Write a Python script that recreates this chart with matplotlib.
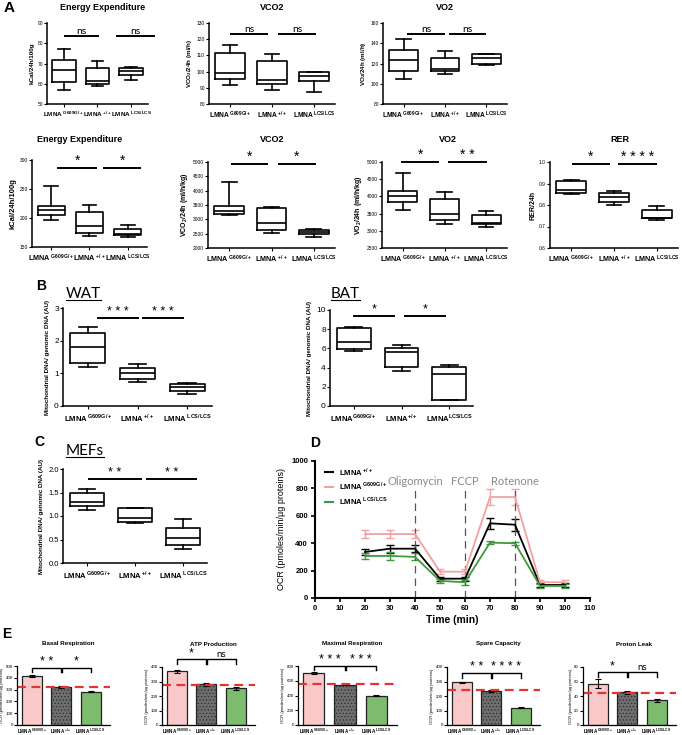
import matplotlib
matplotlib.use('Agg')
import matplotlib.pyplot as plt
from matplotlib.lines import Line2D

W, H = 682, 735
plt.rcParams['font.family'] = ['Liberation Sans', 'DejaVu Sans']
plt.rcParams['mathtext.fontset'] = 'custom'
plt.rcParams['mathtext.rm'] = 'Liberation Sans'
plt.rcParams['mathtext.bf'] = 'Liberation Sans:bold'
plt.rcParams['hatch.linewidth'] = 0.4

genotypes = ['G609G/+', '+/+', 'LCS/LCS']

# box summaries per genotype: [whisker low, q1, median, q3, whisker high]
ee_24h = [[57.0, 60.9, 66.9, 71.5, 77.3], [58.9, 59.9, 61.4, 67.7, 71.3], [61.9, 64.4, 66.4, 68.0, 68.5]]
vco2_24h = [[91.7, 95.2, 99.3, 111.6, 116.7], [88.6, 92.1, 94.7, 106.4, 110.7], [87.1, 94.3, 97.3, 99.5, 99.9]]
vo2_24h = [[104.6, 112.8, 123.3, 133.8, 144.6], [109.5, 112.5, 114.1, 125.6, 132.5], [118.4, 120.0, 125.0, 128.9, 129.8]]
ee_kg = [[196, 206, 213.5, 220.4, 255.6], [169.7, 174.2, 186.4, 210.7, 222], [167.3, 170.2, 171.9, 180.6, 187.5]]
vco2_kg = [[3158, 3193, 3274, 3482, 4293], [2520, 2636, 2868, 3378, 3424], [2382, 2486, 2544, 2614, 2672]]
vo2_kg = [[3595, 3837, 4002, 4167, 4680], [3207, 3324, 3488, 3924, 4128], [3101, 3198, 3227, 3450, 3585]]
rer = [[0.853, 0.856, 0.871, 0.910, 0.918], [0.802, 0.814, 0.837, 0.857, 0.864], [0.732, 0.740, 0.741, 0.778, 0.795]]
wat_mtdna = [[1.18, 1.33, 1.81, 2.25, 2.42], [0.74, 0.82, 1.0, 1.17, 1.30], [0.37, 0.46, 0.57, 0.66, 0.69]]
bat_mtdna = [[5.76, 5.9, 6.63, 8.16, 8.19], [3.65, 4.10, 5.59, 6.08, 6.35], [0.6, 0.63, 3.30, 4.03, 4.27]]
mefs_mtdna = [[1.13, 1.22, 1.29, 1.50, 1.57], [0.85, 0.87, 0.96, 1.16, 1.17], [0.30, 0.39, 0.53, 0.75, 0.94]]

# panel D: seahorse OCR trace
time_min = [20, 30, 40, 50, 60, 70, 80, 90, 100]
ocr_wt = [336, 360, 360, 141, 141, 545, 535, 95, 95]
ocr_wt_err = [25, 30, 25, 15, 15, 40, 45, 15, 15]
ocr_g609g = [467, 467, 467, 192, 192, 737, 737, 115, 115]
ocr_g609g_err = [30, 30, 30, 20, 20, 60, 60, 15, 15]
ocr_lcs = [307, 307, 300, 125, 115, 404, 400, 88, 88]
ocr_lcs_err = [25, 30, 25, 15, 20, 12, 12, 15, 15]

# panel E: bar means, errors and reference (WT) line
basal = [415, 322, 282]; basal_err = [6, 8, 6]
atp = [370, 280, 253]; atp_err = [12, 8, 12]
maximal = [705, 548, 400]; maximal_err = [10, 10, 8]
spare = [295, 235, 120]; spare_err = [5, 5, 3]
proton = [57, 45, 34]; proton_err = [6, 2, 2]

fig = plt.figure(figsize=(W / 100, H / 100), dpi=100)


def px_axes(l, t, r, b):
    return fig.add_axes([l / W, 1 - b / H, (r - l) / W, (b - t) / H])


def lmna(g, space=True):
    sp = r'\ ' if space else ''
    return r'$\mathbf{LMNA}^{' + sp + r'\mathbf{' + g + '}}$'


def style(ax, ylim, yticks, yfs=3.5, lw=1.1):
    for s in ['top', 'right']:
        ax.spines[s].set_visible(False)
    ax.spines['left'].set_linewidth(lw)
    ax.spines['bottom'].set_linewidth(lw)
    ax.set_ylim(*ylim)
    ax.set_yticks(yticks)
    ax.tick_params(axis='y', labelsize=yfs, width=0.8, length=2, pad=1)
    ax.tick_params(axis='x', width=0.8, length=2, pad=2)


def boxplot(ax, stats, xfs=5.5, space=True, width=0.7):
    st = [dict(whislo=s[0], q1=s[1], med=s[2], q3=s[3], whishi=s[4]) for s in stats]
    pr = dict(color='k', lw=1.2)
    ax.bxp(st, positions=[1, 2, 3], widths=width, showfliers=False,
           boxprops=pr, medianprops=pr, whiskerprops=pr, capprops=pr, capwidths=width * 0.5)
    ax.set_xlim(0.5, 3.5)
    ax.set_xticks([1, 2, 3])
    ax.set_xticklabels([lmna(g, space) for g in genotypes], fontsize=xfs)


def sig(ax, x0, x1, y, txt, fs=8, family='Liberation Sans'):
    ax.plot([x0, x1], [y, y], color='k', lw=1.4, clip_on=False, solid_capstyle='butt')
    ax.text((x0 + x1) / 2, y, txt, ha='center', va='bottom', fontsize=fs,
            family=family, clip_on=False)


def title(x, y, s, fs=6.5):
    fig.text(x / W, 1 - y / H, s, ha='center', va='center', fontsize=fs, weight='bold')


def panel(x, y, s, fs=10):
    fig.text(x / W, 1 - y / H, s, ha='left', va='center', fontsize=fs, weight='bold')


def underlined(x, y, s, fs=11):
    t = fig.text(x / W, 1 - y / H, s, ha='left', va='center', fontsize=fs, family='Lato')
    fig.canvas.draw()
    bb = t.get_window_extent()
    fig.add_artist(Line2D([bb.x0 / W, bb.x1 / W], [(bb.y0 + 1.5) / H] * 2, color='k', lw=0.8))


# ---------- panel A, top row ----------
panel(4, 8, 'A', 11)
ax = px_axes(47, 23, 148, 104)
boxplot(ax, ee_24h, xfs=4.6)
style(ax, (50, 90), range(50, 91, 10))
ax.set_ylabel('kCal/24h/100g', fontsize=4.5, weight='bold', labelpad=2)
sig(ax, 1.0, 2.05, 83.4, 'ns', 7.5, 'Lato')
sig(ax, 2.55, 3.7, 83.4, 'ns', 7.5, 'Lato')
title(103, 7, 'Energy Expenditure')

ax = px_axes(209, 23, 335, 104)
boxplot(ax, vco2_24h, xfs=4.8)
style(ax, (80, 130), range(80, 131, 10))
ax.set_ylabel('VCO$_\\mathbf{2}$/24h (ml/h)', fontsize=4.5, weight='bold', labelpad=2)
sig(ax, 1.0, 1.9, 123, 'ns', 7.5, 'Lato')
sig(ax, 2.15, 3.05, 123, 'ns', 7.5, 'Lato')
title(272, 7, 'VCO2')

ax = px_axes(383, 23, 507, 104)
boxplot(ax, vo2_24h, xfs=4.8)
style(ax, (80, 160), range(80, 161, 20))
ax.set_ylabel('VO$_\\mathbf{2}$/24h (ml/h)', fontsize=4.5, weight='bold', labelpad=2)
sig(ax, 1.08, 2.0, 149.5, 'ns', 7.5, 'Lato')
sig(ax, 2.1, 3.0, 149.5, 'ns', 7.5, 'Lato')
title(445, 7, 'VO2')

# ---------- panel A, bottom row ----------
ax = px_axes(32, 160, 147, 247)
boxplot(ax, ee_kg, xfs=5.2)
style(ax, (150, 300), range(150, 301, 50))
ax.set_ylabel('kCal/24h/100g', fontsize=5.5, weight='bold', labelpad=2)
sig(ax, 1.15, 2.2, 286.7, '*', 10)
sig(ax, 2.35, 3.35, 286.7, '*', 10)
title(80, 140, 'Energy Expenditure')

ax = px_axes(208, 162, 335, 248)
boxplot(ax, vco2_kg, xfs=5.2)
style(ax, (2000, 5000), range(2000, 5001, 500))
ax.set_ylabel('VCO$_\\mathbf{2}$/24h (ml/h/kg)', fontsize=5, weight='bold', labelpad=2)
sig(ax, 1.04, 1.92, 4930, '*', 10)
sig(ax, 2.15, 3.05, 4930, '*', 10)
title(272, 140, 'VCO2')

ax = px_axes(382, 162, 507, 248)
boxplot(ax, vo2_kg, xfs=5.2)
style(ax, (2500, 5000), range(2500, 5001, 500))
ax.set_ylabel('VO$_\\mathbf{2}$/24h (ml/h/kg)', fontsize=5, weight='bold', labelpad=2)
sig(ax, 0.96, 1.87, 5000, '*', 10)
sig(ax, 2.08, 3.02, 5000, '* *', 10)
title(448, 140, 'VO2')

ax = px_axes(550, 162, 678, 248)
boxplot(ax, rer, xfs=5.2)
style(ax, (0.6, 1.0), [0.6, 0.7, 0.8, 0.9, 1.0])
ax.set_yticklabels(['0.6', '0.7', '0.8', '0.9', '1.0'])
ax.set_ylabel('RER/24h', fontsize=5, weight='bold', labelpad=2)
sig(ax, 1.02, 1.9, 0.992, '*', 10)
sig(ax, 2.09, 3.0, 0.992, '* * * *', 10)
title(620, 140, 'RER')

# ---------- panel B ----------
panel(36, 286, 'B', 10)
underlined(66, 294, 'WAT')
ax = px_axes(63, 308, 212, 406)
boxplot(ax, wat_mtdna, xfs=5.5)
style(ax, (0, 3), [0, 1, 2, 3], yfs=6)
ax.set_ylabel('Mitochondrial DNA/ genomic DNA (AU)', fontsize=4.5, weight='bold', labelpad=3)
sig(ax, 1.18, 2.03, 2.69, '* * *', 9)
sig(ax, 2.09, 2.93, 2.69, '* * *', 9)

underlined(331, 294, 'BAT')
ax = px_axes(330, 310, 473, 406)
boxplot(ax, bat_mtdna, xfs=5.5, space=False)
style(ax, (0, 10), range(0, 11, 2), yfs=6)
ax.set_ylabel('Mitochondrial DNA/ genomic DNA (AU)', fontsize=4.5, weight='bold', labelpad=3)
sig(ax, 0.98, 1.86, 9.4, '*', 9)
sig(ax, 2.05, 2.93, 9.4, '*', 9)

# ---------- panel C ----------
panel(34, 442, 'C', 10)
underlined(66, 451, 'MEFs')
ax = px_axes(63, 469, 207, 563)
boxplot(ax, mefs_mtdna, xfs=5.5)
style(ax, (0, 2), [0, 0.5, 1.0, 1.5, 2.0], yfs=5.5)
ax.set_yticklabels(['0.0', '0.5', '1.0', '1.5', '2.0'])
ax.set_ylabel('Mitochondrial DNA/ genomic DNA (AU)', fontsize=4.5, weight='bold', labelpad=3)
sig(ax, 1.02, 2.15, 1.79, '* *', 9)
sig(ax, 2.23, 3.3, 1.79, '* *', 9)

# ---------- panel D ----------
panel(310, 443, 'D', 10)
ax = px_axes(315, 461, 590, 598)
green = '#3c9a3c'
pink = '#f4a0a0'
series = [(ocr_wt, ocr_wt_err, 'k', '+/+'), (ocr_g609g, ocr_g609g_err, pink, 'G609G/+'),
          (ocr_lcs, ocr_lcs_err, green, 'LCS/LCS')]
handles = []
for vals, errs, col, g in series:
    ax.errorbar(time_min, vals, yerr=errs, color=col, lw=1.3, capsize=3, capthick=1, elinewidth=1)
    handles.append(Line2D([], [], color=col, lw=1.5, label=lmna(g)))
for xv, name in zip([40, 60, 80], ['Oligomycin', 'FCCP', 'Rotenone']):
    ax.plot([xv, xv], [0, 800], color='#555555', lw=0.9, ls=(0, (6, 4)))
    ax.text(xv, 850, name, ha='center', va='center', fontsize=8, color='#8a8a8a', family='Lato')
for s in ['top', 'right']:
    ax.spines[s].set_visible(False)
ax.spines['left'].set_linewidth(1.5)
ax.spines['bottom'].set_linewidth(1.5)
ax.set_xlim(0, 110)
ax.set_ylim(0, 1000)
ax.set_xticks(range(0, 111, 10))
ax.set_yticks(range(0, 1001, 200))
ax.tick_params(labelsize=5.5, width=1.2, length=3, pad=2)
for lbl in ax.get_xticklabels() + ax.get_yticklabels():
    lbl.set_fontweight('bold')
ax.set_xlabel('Time (min)', fontsize=7.5, weight='bold', labelpad=2)
ax.set_ylabel('OCR (pmoles/min/µg proteins)', fontsize=6.5, labelpad=4)
ax.legend(handles=handles, loc='upper left', bbox_to_anchor=(0.02, 1.0), frameon=False, fontsize=5.5,
          handlelength=1.0, handletextpad=0.8, labelspacing=0.35, borderaxespad=0.2)

# ---------- panel E ----------
panel(2, 634, 'E', 10)
bar_colors = ['#f9c9c9', '#6e6e6e', '#7dbb6e']
e_panels = [
    ((17, 666, 110, 725), 'Basal Respiration', basal, basal_err, 320, (0, 500), range(0, 501, 100),
     [('* *', 485, 35), ('*', 485, 35)]),
    ((162, 667, 255, 725), 'ATP Production', atp, atp_err, 275, (0, 400), range(0, 401, 100),
     [('*', 455, 35), ('ns', 455, 35)]),
    ((298, 666, 397, 725), 'Maximal Respiration', maximal, maximal_err, 550, (0, 800), range(0, 801, 200),
     [('* * *', 803, 58), ('* * *', 803, 58)]),
    ((447, 667, 540, 725), 'Spare Capacity', spare, spare_err, 238, (0, 400), range(0, 401, 100),
     [('* *', 358, 34), ('* * * *', 358, 34)]),
    ((583, 667, 676, 725), 'Proton Leak', proton, proton_err, 44, (0, 80), range(0, 81, 20),
     [('*', 73, 7), ('ns', 73, 7)]),
]
for box, name, vals, errs, ref, ylim, yt, sigs in e_panels:
    ax = px_axes(*box)
    bars = ax.bar([0, 1, 2], vals, width=0.68, color=bar_colors, edgecolor='#222222', lw=0.9,
                  yerr=errs, capsize=2, error_kw=dict(elinewidth=0.8, capthick=0.8))
    bars[1].set_hatch('.....')
    ax.axhline(ref, color='#e03535', lw=1.6, ls=(0, (4, 2.5)))
    ax.set_xlim(-0.5, 2.66)
    style(ax, ylim, yt, yfs=3.2, lw=0.9)
    ax.set_xticks([0, 1, 2])
    ax.set_xticklabels([lmna(g) for g in genotypes], fontsize=3.3)
    ax.tick_params(axis='x', length=0, pad=1.5)
    ax.set_ylabel('OCR (pmoles/min/µg proteins)', fontsize=3.0, labelpad=1)
    l, t, r, b = box
    title((l + r) / 2 + 5, 644, name, fs=4.5)
    for (txt, y, h), (x0, x1) in zip(sigs, [(0, 1), (1.04, 2)]):
        ax.plot([x0, x0, x1, x1], [y - h, y, y, y - h], color='k', lw=1.0, clip_on=False)
        fs = 7 if txt == 'ns' else 9
        ax.text((x0 + x1) / 2, y, txt, ha='center', va='bottom', fontsize=fs, clip_on=False,
                family='Lato' if txt == 'ns' else 'Liberation Sans')

fig.savefig('out.png', dpi=100)
